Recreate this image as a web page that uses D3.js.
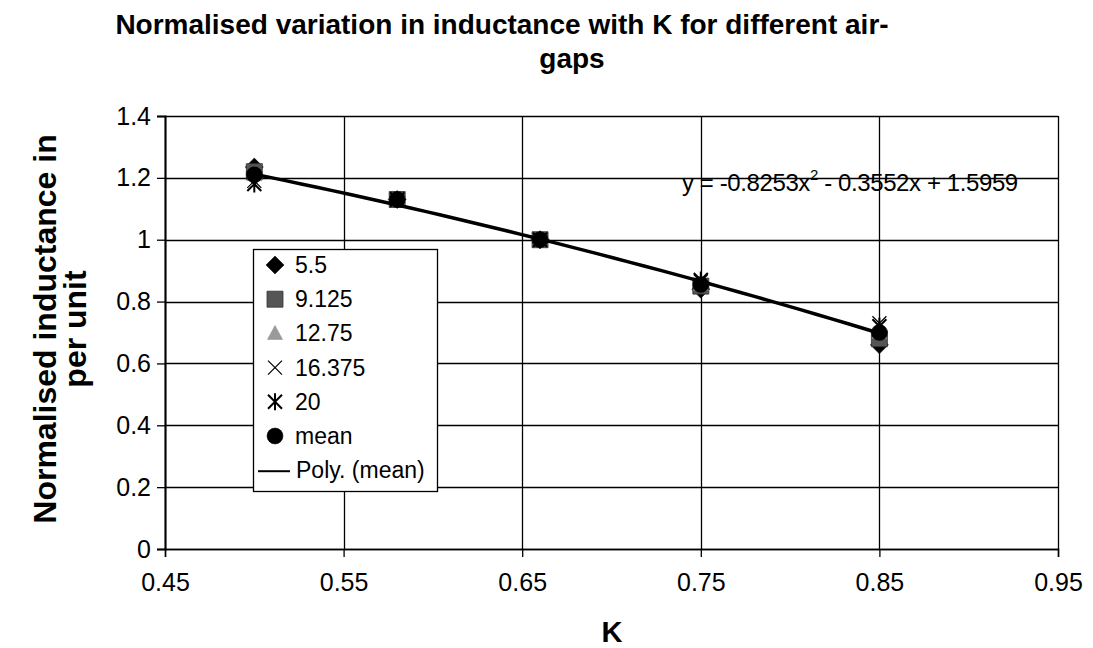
<!DOCTYPE html>
<html><head><meta charset="utf-8">
<script src="https://cdn.jsdelivr.net/npm/d3@7"></script>
<style>
body{margin:0;background:#fff;}
text{font-family:"Liberation Sans",Arial,sans-serif;}
</style></head>
<body><svg id="c" width="1093" height="648"></svg>
<script>
const kValues = [0.5, 0.58, 0.66, 0.75, 0.85];
const s5_5    = [1.235, 1.13, 1.0, 0.84, 0.66];
const s9_125  = [1.22, 1.13, 1.0, 0.85, 0.68];
const s12_75  = [1.21, 1.13, 1.0, 0.855, 0.70];
const s16_375 = [1.19, 1.13, 1.0, 0.865, 0.73];
const s20     = [1.18, 1.13, 1.0, 0.87, 0.72];
const sMean   = [1.21, 1.13, 1.0, 0.855, 0.70];
const polyCoef = [-0.8253, -0.3552, 1.5959];
const xTicks = [0.45, 0.55, 0.65, 0.75, 0.85, 0.95];
const yTicks = [0, 0.2, 0.4, 0.6, 0.8, 1, 1.2, 1.4];
const seriesNames = ["5.5", "9.125", "12.75", "16.375", "20", "mean"];

const svg = d3.select("#c");
const L = 165, R = 1058, T = 116, B = 549;
const x = d3.scaleLinear().domain([0.45, 0.95]).range([L, R]);
const y = d3.scaleLinear().domain([0, 1.4]).range([B, T]);

// grid
svg.append("g").selectAll("line").data(yTicks).join("line")
  .attr("x1", L).attr("x2", R).attr("y1", d => Math.round(y(d)) + 0.5).attr("y2", d => Math.round(y(d)) + 0.5)
  .attr("stroke", "#000").attr("stroke-width", 1.3);
svg.append("g").selectAll("line").data(xTicks).join("line")
  .attr("y1", T).attr("y2", B).attr("x1", d => Math.round(x(d)) + 0.5).attr("x2", d => Math.round(x(d)) + 0.5)
  .attr("stroke", "#000").attr("stroke-width", 1.3);

// axes
const xAxis = d3.axisBottom(x).tickValues(xTicks).tickFormat(d3.format(".2f")).tickSize(8).tickPadding(16);
const gx = svg.append("g").attr("transform", `translate(0,${B})`).call(xAxis);
const yAxis = d3.axisLeft(y).tickValues(yTicks).tickFormat(d => String(+d.toFixed(1))).tickSize(8).tickPadding(6);
const gy = svg.append("g").attr("transform", `translate(${L},0)`).call(yAxis);
[gx, gy].forEach(g => {
  g.attr("font-size", null).attr("font-family", null);
  g.select(".domain").attr("stroke", "#000").attr("stroke-width", 1.5);
  g.selectAll(".tick line").attr("stroke", "#000").attr("stroke-width", 1.3);
  g.selectAll("text").attr("font-size", 25).attr("fill", "#000");
});
gy.select(".domain").attr("stroke-width", 2);

// custom markers
const symPath = {
  "5.5": "M0,-9L9,0L0,9L-9,0Z",
  "9.125": "M-8,-8H8V8H-8Z",
  "12.75": "M0,-8L7.5,6L-7.5,6Z",
  "16.375": "M-7,-7L7,7M7,-7L-7,7",
  "20": "M-7,-7L7,7M7,-7L-7,7M0,-8.5V8.5",
  "mean": d3.symbol(d3.symbolCircle, Math.PI * 64)()
};
const style = {
  "5.5": {fill: "#000", stroke: "#000", sw: 0.5},
  "9.125": {fill: "#555", stroke: "#333", sw: 0.8},
  "12.75": {fill: "#9a9a9a", stroke: "#888", sw: 0.5},
  "16.375": {fill: "none", stroke: "#000", sw: 1.2},
  "20": {fill: "none", stroke: "#000", sw: 2},
  "mean": {fill: "#000", stroke: "#000", sw: 0.5}
};
const allSeries = [s5_5, s9_125, s12_75, s16_375, s20, sMean];
function drawMarker(g, name, cx, cy) {
  const st = style[name];
  g.append("path").attr("d", symPath[name]).attr("transform", `translate(${cx},${cy})`)
    .attr("fill", st.fill).attr("stroke", st.stroke).attr("stroke-width", st.sw);
}
const gm = svg.append("g");
allSeries.forEach((vals, i) => {
  vals.forEach((v, j) => drawMarker(gm, seriesNames[i], x(kValues[j]), y(v)));
});

// trendline
const kMin = d3.min(kValues), kMax = d3.max(kValues);
const trendX = d3.range(0, 41).map(i => kMin + (kMax - kMin) * i / 40);
const poly = k => polyCoef[0] * k * k + polyCoef[1] * k + polyCoef[2];
svg.append("path").datum(trendX)
  .attr("d", d3.line().x(d => x(d)).y(d => y(poly(d))))
  .attr("fill", "none").attr("stroke", "#000").attr("stroke-width", 3.5);

// equation
const eq = svg.append("text").attr("x", 682).attr("y", 191).attr("font-size", 24).attr("letter-spacing", -0.4).attr("fill", "#000");
eq.append("tspan").text("y = -0.8253x");
eq.append("tspan").text("2").attr("font-size", 15).attr("dy", -11);
eq.append("tspan").text(" - 0.3552x + 1.5959").attr("dy", 11);

// legend
const lg = svg.append("g");
lg.append("rect").attr("x", 253.5).attr("y", 249.5).attr("width", 184).attr("height", 242)
  .attr("fill", "#fff").attr("stroke", "#000").attr("stroke-width", 1.3);
const legendItems = seriesNames.concat(["Poly. (mean)"]);
legendItems.forEach((n, i) => {
  const cy = 265 + i * 34.2;
  if (i < 6) drawMarker(lg, n, 275, cy);
  else lg.append("line").attr("x1", 258).attr("x2", 290).attr("y1", cy + 1).attr("y2", cy + 1).attr("stroke", "#000").attr("stroke-width", 2);
  lg.append("text").attr("x", i < 6 ? 295 : 296).attr("y", cy + 8).attr("font-size", 23).attr("fill", "#000").text(n);
});

// titles
svg.append("text").attr("x", 502).attr("y", 34).attr("text-anchor", "middle").attr("font-size", 28).attr("font-weight", "bold").text("Normalised variation in inductance with K for different air-");
svg.append("text").attr("x", 572).attr("y", 68).attr("text-anchor", "middle").attr("font-size", 28).attr("font-weight", "bold").text("gaps");
svg.append("text").attr("x", 612).attr("y", 642).attr("text-anchor", "middle").attr("font-size", 29).attr("font-weight", "bold").text("K");
const yt = svg.append("g").attr("transform", "translate(56,329) rotate(-90)");
yt.append("text").attr("x", 0).attr("y", 0).attr("text-anchor", "middle").attr("font-size", 32).attr("font-weight", "bold").text("Normalised inductance in");
yt.append("text").attr("x", 0).attr("y", 30).attr("text-anchor", "middle").attr("font-size", 32).attr("font-weight", "bold").text("per unit");
</script></body></html>
